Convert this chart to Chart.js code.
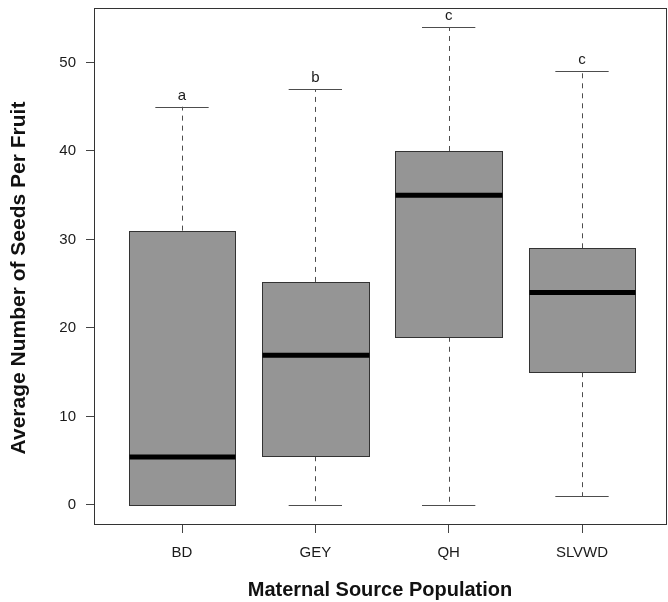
<!DOCTYPE html>
<html>
<head>
<meta charset="utf-8">
<script src="https://cdn.jsdelivr.net/npm/chart.js@4/dist/chart.umd.min.js"></script>
<style>
  html, body { margin: 0; padding: 0; background: #fff; overflow: hidden; }
  #wrap { width: 668px; height: 602px; }
</style>
</head>
<body>
<div id="wrap"><canvas id="boxChart" width="668" height="602"></canvas></div>
<script>
// Boxplot summary per maternal source population
const categories = ['BD', 'GEY', 'QH', 'SLVWD'];
const whiskerLow = [0, 0, 0, 1];
const q1 = [0, 5.5, 19, 15];
const median = [5.4, 16.9, 35, 24];
const q3 = [31, 25.2, 40, 29];
const whiskerHigh = [45, 47, 54, 49];
const groupLetters = ['a', 'b', 'c', 'c'];
const yTicks = [0, 10, 20, 30, 40, 50];

const FONT = "'Liberation Sans', Arial, Helvetica, sans-serif";
const BOX_WIDTH = 0.8;     // in category units, like R's boxplot
const STAPLE_WIDTH = 0.4;
const Y_TITLE = 'Average Number of Seeds Per Fruit';

// draws the boxes, whiskers, staples and letters with the chart's scales
const boxplotPlugin = {
  id: 'boxplotPlugin',
  afterDatasetsDraw(chart) {
    const ctx = chart.ctx;
    const xs = chart.scales.x;
    const ys = chart.scales.y;
    ctx.save();
    categories.forEach((cat, i) => {
      const xc = xs.getPixelForValue(i + 1);
      const xl = xs.getPixelForValue(i + 1 - BOX_WIDTH / 2);
      const xr = xs.getPixelForValue(i + 1 + BOX_WIDTH / 2);
      const sl = xs.getPixelForValue(i + 1 - STAPLE_WIDTH / 2);
      const sr = xs.getPixelForValue(i + 1 + STAPLE_WIDTH / 2);
      const yLo = ys.getPixelForValue(whiskerLow[i]);
      const yQ1 = ys.getPixelForValue(q1[i]);
      const yMed = ys.getPixelForValue(median[i]);
      const yQ3 = ys.getPixelForValue(q3[i]);
      const yHi = ys.getPixelForValue(whiskerHigh[i]);

      // dashed whiskers
      ctx.strokeStyle = '#4d4d4d';
      ctx.lineWidth = 1;
      ctx.setLineDash([5, 5]);
      ctx.beginPath();
      ctx.moveTo(Math.round(xc) + 0.5, yQ3);
      ctx.lineTo(Math.round(xc) + 0.5, yHi);
      if (q1[i] > whiskerLow[i]) {
        ctx.moveTo(Math.round(xc) + 0.5, yQ1);
        ctx.lineTo(Math.round(xc) + 0.5, yLo);
      }
      ctx.stroke();
      ctx.setLineDash([]);

      // staples
      ctx.beginPath();
      ctx.moveTo(sl, Math.round(yHi) + 0.5);
      ctx.lineTo(sr, Math.round(yHi) + 0.5);
      ctx.moveTo(sl, Math.round(yLo) + 0.5);
      ctx.lineTo(sr, Math.round(yLo) + 0.5);
      ctx.stroke();

      // box
      const bx = Math.round(xl) + 0.5;
      const bw = Math.round(xr) - Math.round(xl);
      const by = Math.round(yQ3) + 0.5;
      const bh = Math.round(yQ1) - Math.round(yQ3);
      ctx.fillStyle = '#959595';
      ctx.fillRect(bx, by, bw, bh);
      ctx.strokeStyle = '#333333';
      ctx.strokeRect(bx, by, bw, bh);

      // median
      ctx.strokeStyle = '#000000';
      ctx.lineWidth = 5;
      ctx.beginPath();
      ctx.moveTo(bx, yMed);
      ctx.lineTo(bx + bw, yMed);
      ctx.stroke();
      ctx.lineWidth = 1;

      // group letter above the upper staple
      ctx.fillStyle = '#1a1a1a';
      ctx.font = '15px ' + FONT;
      ctx.textAlign = 'center';
      ctx.textBaseline = 'middle';
      ctx.fillText(groupLetters[i], xc, yHi - 11);
    });
    ctx.restore();
  },
  afterDraw(chart) {
    // R-style box around the plot region
    const a = chart.chartArea;
    const ctx = chart.ctx;
    ctx.save();
    ctx.strokeStyle = '#333333';
    ctx.lineWidth = 1;
    ctx.strokeRect(Math.round(a.left) + 0.5, Math.round(a.top) + 0.5,
      Math.round(a.right - a.left), Math.round(a.bottom - a.top));

    // y axis title, sits a bit below the plot centre in the original
    ctx.translate(25, (a.top + a.bottom) / 2 + 12);
    ctx.rotate(-Math.PI / 2);
    ctx.fillStyle = '#111';
    ctx.font = 'bold 21px ' + FONT;
    ctx.textAlign = 'center';
    ctx.textBaseline = 'alphabetic';
    ctx.fillText(Y_TITLE, 0, 0);
    ctx.restore();
  }
};

const ctx = document.getElementById('boxChart').getContext('2d');
const boxChart = new Chart(ctx, {
  type: 'scatter',
  data: {
    datasets: [{
      label: 'median',
      data: median.map((m, i) => ({ x: i + 1, y: m })),
      pointRadius: 0,
      pointHoverRadius: 0
    }]
  },
  options: {
    responsive: false,
    animation: false,
    devicePixelRatio: 1,
    layout: { padding: { left: 0, top: 8, right: 2, bottom: 0 } },
    plugins: {
      legend: { display: false },
      tooltip: { enabled: false }
    },
    scales: {
      x: {
        type: 'linear',
        position: 'bottom',
        min: 0.34,
        max: 4.63,
        afterFit: (scale) => {
          scale.height = 78;
          scale.paddingLeft = 0;
          scale.paddingRight = 0;
        },
        afterBuildTicks: (scale) => {
          scale.ticks = categories.map((c, i) => ({ value: i + 1 }));
        },
        ticks: {
          callback: (value) => categories[value - 1] || '',
          font: { family: FONT, size: 15 },
          color: '#1a1a1a',
          padding: 11,
          maxRotation: 0
        },
        grid: {
          drawOnChartArea: false,
          drawTicks: true,
          tickLength: 9,
          tickColor: '#444'
        },
        border: { display: false },
        title: {
          display: true,
          text: 'Maternal Source Population',
          font: { family: FONT, size: 20, weight: 'bold' },
          color: '#111',
          padding: { top: 0, bottom: 0 }
        }
      },
      y: {
        type: 'linear',
        position: 'left',
        min: -2.16,
        max: 56.16,
        afterFit: (scale) => {
          scale.width = 94;
          scale.paddingTop = 0;
          scale.paddingBottom = 0;
        },
        afterBuildTicks: (scale) => {
          scale.ticks = yTicks.map(v => ({ value: v }));
        },
        ticks: {
          font: { family: FONT, size: 15 },
          color: '#1a1a1a',
          padding: 10
        },
        grid: {
          drawOnChartArea: false,
          drawTicks: true,
          tickLength: 8,
          tickColor: '#444'
        },
        border: { display: false },
        title: { display: false }
      }
    }
  },
  plugins: [boxplotPlugin]
});
</script>
</body>
</html>
